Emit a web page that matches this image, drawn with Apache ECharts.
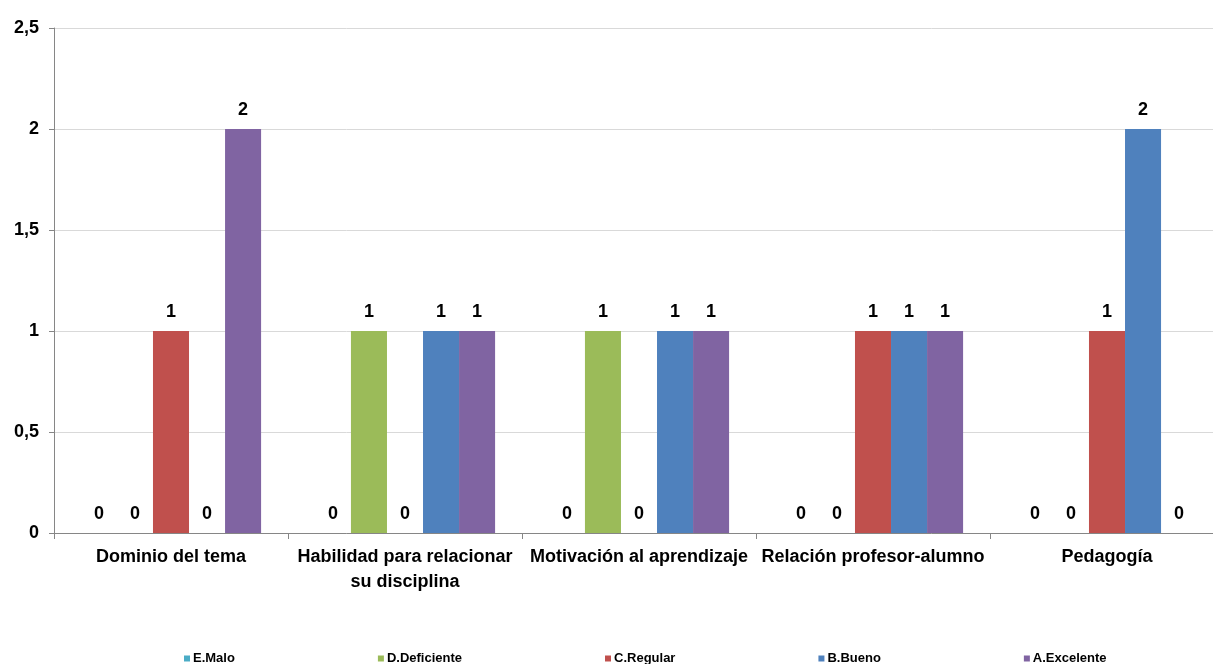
<!DOCTYPE html>
<html>
<head>
<meta charset="utf-8">
<script src="https://cdn.jsdelivr.net/npm/echarts@6/dist/echarts.min.js"></script>
<style>
html,body{margin:0;padding:0;background:#fff;overflow:hidden;width:1213px;height:664px;}
#chart{width:1224px;height:664px;}
</style>
</head>
<body>
<div id="chart"></div>
<script>
var categories = ['Dominio del tema', 'Habilidad para relacionar\nsu disciplina', 'Motivación al aprendizaje', 'Relación profesor-alumno', 'Pedagogía'];
var seriesNames = ['E.Malo', 'D.Deficiente', 'C.Regular', 'B.Bueno', 'A.Excelente'];
var eMalo = [0, 0, 0, 0, 0];
var dDeficiente = [0, 1, 1, 0, 0];
var cRegular = [1, 0, 0, 1, 1];
var bBueno = [0, 1, 1, 1, 2];
var aExcelente = [2, 1, 1, 1, 0];
var colors = ['#4BACC6', '#9BBB59', '#C0504D', '#4F81BD', '#8064A2'];
var values = [eMalo, dDeficiente, cRegular, bBueno, aExcelente];

var FONT = "'Liberation Sans', Arial, sans-serif";
var chart = echarts.init(document.getElementById('chart'));
var series = seriesNames.map(function (name, i) {
  return {
    name: name,
    type: 'bar',
    data: values[i],
    barGap: '0%',
    barCategoryGap: '23%',
    itemStyle: { color: colors[i] },
    label: {
      show: true,
      position: 'top',
      distance: 10,
      color: '#000',
      fontFamily: FONT,
      fontWeight: 'bold',
      fontSize: 18
    }
  };
});
chart.setOption({
  animation: false,
  backgroundColor: '#fff',
  color: colors,
  grid: { left: 54, right: 0, top: 28, bottom: 131, containLabel: false },
  legend: {
    data: seriesNames,
    left: 179,
    top: 647,
    itemWidth: 6,
    itemHeight: 6,
    itemGap: 143,
    icon: 'rect',
    textStyle: { color: '#000', fontFamily: FONT, fontWeight: 'bold', fontSize: 13, padding: [0, 0, 0, -2] }
  },
  xAxis: {
    type: 'category',
    data: categories,
    axisLine: { lineStyle: { color: '#868686', width: 1 } },
    axisTick: { show: true, length: 6, lineStyle: { color: '#868686' } },
    axisLabel: {
      interval: 0,
      margin: 12,
      color: '#000',
      fontFamily: FONT,
      fontWeight: 'bold',
      fontSize: 18,
      lineHeight: 25
    },
    splitLine: { show: false }
  },
  yAxis: {
    type: 'value',
    min: 0,
    max: 2.5,
    interval: 0.5,
    axisLine: { show: true, lineStyle: { color: '#868686', width: 1 } },
    axisTick: { show: true, length: 5, lineStyle: { color: '#868686' } },
    axisLabel: {
      margin: 15,
      color: '#000',
      fontFamily: FONT,
      fontWeight: 'bold',
      fontSize: 18,
      formatter: function (v) { return String(v).replace('.', ','); }
    },
    splitLine: { show: true, lineStyle: { color: '#d9d9d9', width: 1 } }
  },
  series: series
});
</script>
</body>
</html>
